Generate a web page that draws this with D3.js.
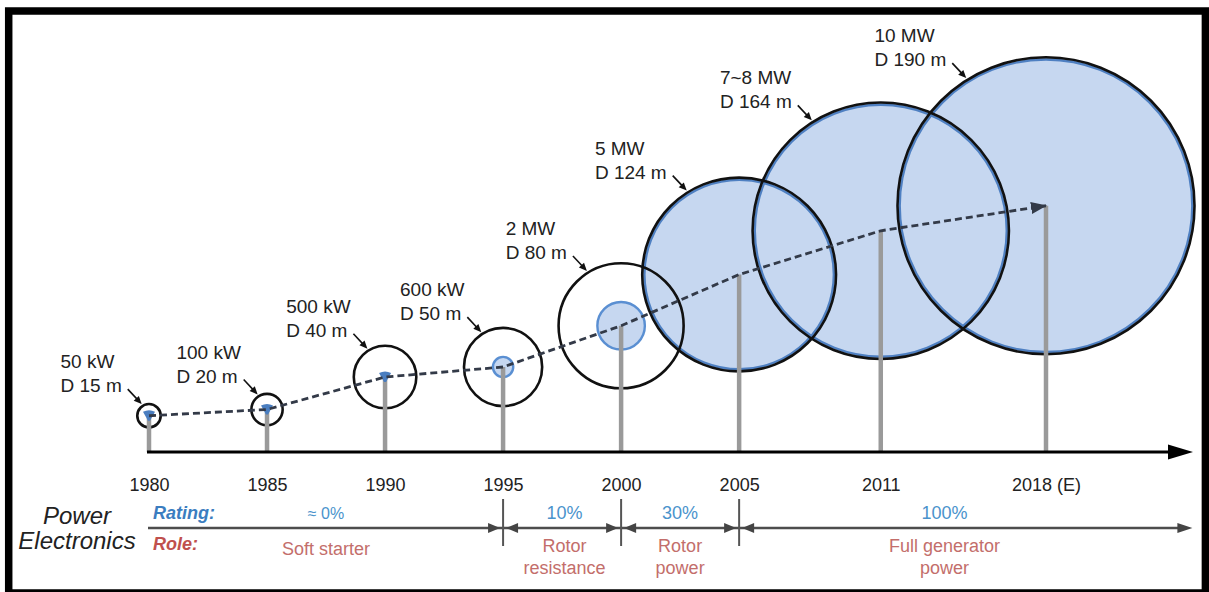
<!DOCTYPE html>
<html><head><meta charset="utf-8">
<script src="https://cdn.jsdelivr.net/npm/d3@7"></script>
<style>
body{margin:0;background:#fff}
svg{display:block}
text{font-family:"Liberation Sans",Arial,Helvetica,sans-serif}
</style>
</head><body>
<svg id="c" width="1209" height="592"></svg>
<script>
// ---------------- data ----------------
const years = [1980, 1985, 1990, 1995, 2000, 2005, 2011, 2018];
const yearLabels = ["1980", "1985", "1990", "1995", "2000", "2005", "2011", "2018 (E)"];
const powerLabels = ["50 kW", "100 kW", "500 kW", "600 kW", "2 MW", "5 MW", "7~8 MW", "10 MW"];
const diameterLabels = ["D 15 m", "D 20 m", "D 40 m", "D 50 m", "D 80 m", "D 124 m", "D 164 m", "D 190 m"];
const rotorDiameters = [15, 20, 40, 50, 80, 124, 164, 190];     // m
const hubHeights = [29, 34, 60, 68, 101, 142, 177, 197];         // m
const peDiscShare = [0, 0, 0, 0.26, 0.38, 1, 1, 1];              // blue disc / rotor radius
const stageBounds = [1980, 1995, 2000, 2005, 2024.2];
const stageLabelYears = [1987.5, 1997.6, 2002.5, 2013.7];
const stageRatings = ["≈ 0%", "10%", "30%", "100%"];
const stageRoles = [["Soft starter"], ["Rotor", "resistance"], ["Rotor", "power"], ["Full generator", "power"]];

// ---------------- setup ----------------
const svg = d3.select("#c");
const W = 1209, H = 592;
const axisY = 452;
const x = d3.scaleLinear().domain([1980, 2018]).range([149, 1046]);
const hubY = d3.scaleLinear().domain([0, 200]).range([axisY, axisY - 250]);
const rS = d3.scaleLinear().domain([0, 190]).range([0, 148.5]);

const FILL = "#c6d7f0", BLUE = "#4f80c2", BLUE_TXT = "#4a93cc", RED = "#c0504d", RED_TXT = "#c36e6b";

const turbines = years.map((y, i) => ({
  year: y, cx: x(y), cy: hubY(hubHeights[i]), r: rS(rotorDiameters[i]),
  share: peDiscShare[i], p: powerLabels[i], d: diameterLabels[i]
}));

svg.append("rect").attr("width", W).attr("height", H).attr("fill", "#fff");

const defs = svg.append("defs");
defs.append("marker").attr("id", "trendHead").attr("markerUnits", "userSpaceOnUse")
  .attr("viewBox", "0 0 16 12").attr("refX", 15).attr("refY", 6)
  .attr("markerWidth", 16).attr("markerHeight", 12).attr("orient", "auto")
  .append("path").attr("d", "M0,0 L16,6 L0,12 Z").attr("fill", "#333a48");

const g = svg.append("g");

// 1) filled rotor discs
const full = turbines.filter(t => t.share >= 1);
g.selectAll("circle.fill").data(full).join("circle")
  .attr("cx", d => d.cx).attr("cy", d => d.cy).attr("r", d => d.r)
  .attr("fill", FILL).attr("stroke", "none");
g.selectAll("circle.ring").data(full).join("circle")
  .attr("cx", d => d.cx).attr("cy", d => d.cy).attr("r", d => d.r - 2.2)
  .attr("fill", "none").attr("stroke", BLUE).attr("stroke-width", 2.4);

// 2) black rotor outlines
g.selectAll("circle.outline").data(turbines).join("circle")
  .attr("cx", d => d.cx).attr("cy", d => d.cy).attr("r", d => d.r)
  .attr("fill", "none").attr("stroke", "#111").attr("stroke-width", 2.6);

// 3) partial power-electronics discs
const partial = turbines.filter(t => t.share > 0 && t.share < 1);
g.selectAll("circle.pe").data(partial).join("circle")
  .attr("cx", d => d.cx).attr("cy", d => d.cy).attr("r", d => d.r * d.share)
  .attr("fill", FILL).attr("stroke", "#5a8fd2").attr("stroke-width", 2.4);

// 4) towers
g.selectAll("line.tower").data(turbines).join("line")
  .attr("x1", d => d.cx).attr("x2", d => d.cx)
  .attr("y1", d => d.cy).attr("y2", axisY)
  .attr("stroke", "#9a9a9a").attr("stroke-width", 4.5);

// hub markers for the small turbines
g.selectAll("path.hub").data(turbines.filter(t => t.share === 0)).join("path")
  .attr("d", d => `M${d.cx - 6},${d.cy - 4} Q${d.cx},${d.cy - 7} ${d.cx + 6},${d.cy - 4} L${d.cx + 1},${d.cy + 5} L${d.cx - 1},${d.cy + 5} Z`)
  .attr("fill", "#4a7ec0");

// 5) dashed trend line
const trend = d3.line().x(d => d.cx).y(d => d.cy).curve(d3.curveLinear);
g.append("path").attr("d", trend(turbines))
  .attr("fill", "none").attr("stroke", "#333a48").attr("stroke-width", 2.8)
  .attr("stroke-dasharray", "7,4").attr("marker-end", "url(#trendHead)");

// 6) main time axis
g.append("line").attr("x1", 147).attr("x2", 1172).attr("y1", axisY).attr("y2", axisY)
  .attr("stroke", "#000").attr("stroke-width", 3.2);
g.append("path").attr("d", `M1193,${axisY} L1168,${axisY - 7.5} L1168,${axisY + 7.5} Z`).attr("fill", "#000");

const axis = d3.axisBottom(x).tickValues(years).tickFormat((d, i) => yearLabels[i]).tickSize(0).tickPadding(26);
const ag = g.append("g").attr("transform", `translate(0,${axisY})`).call(axis);
ag.select(".domain").remove();
ag.selectAll("text").attr("font-size", 18).attr("fill", "#222")
  .style("font-family", '"Liberation Sans",Arial,sans-serif');

// 7) labels with small arrows
const ang = -122 * Math.PI / 180;
turbines.forEach(t => {
  const tipX = t.cx + (t.r + 2) * Math.cos(ang), tipY = t.cy + (t.r + 2) * Math.sin(ang);
  const sx = tipX - 14, sy = tipY - 15;
  g.append("line").attr("x1", sx).attr("y1", sy).attr("x2", tipX - 3).attr("y2", tipY - 3.2)
    .attr("stroke", "#111").attr("stroke-width", 1.6);
  const dx = 14 / Math.hypot(14, 15), dy = 15 / Math.hypot(14, 15);
  const bx = tipX - dx * 8, by = tipY - dy * 8;
  g.append("path").attr("d", `M${tipX},${tipY} L${bx - dy * 3.5},${by + dx * 3.5} L${bx + dy * 3.5},${by - dx * 3.5} Z`)
    .attr("fill", "#111");
  const t2 = g.append("text").attr("font-size", 19).attr("fill", "#222").text(t.d);
  const len = t2.node().getComputedTextLength();
  const lx = sx - 6 - len;
  t2.attr("x", lx).attr("y", sy + 3);
  g.append("text").attr("font-size", 19).attr("fill", "#222").attr("x", lx).attr("y", sy + 3 - 24).text(t.p);
});

// 8) power electronics stages
const lineY = 528;
const xs = stageBounds.map(b => x(b));
g.append("line").attr("x1", 148).attr("x2", 1180).attr("y1", lineY).attr("y2", lineY)
  .attr("stroke", "#4d4d4d").attr("stroke-width", 2.6);
function head(tx, dir, len, hw) {
  return `M${tx},${lineY} L${tx - dir * len},${lineY - hw} L${tx - dir * len},${lineY + hw} Z`;
}
stageBounds.slice(0, -1).forEach((b, i) => {
  const x0 = xs[i], x1 = xs[i + 1];
  if (i > 0) g.append("path").attr("d", head(x0 + 3, -1, 12, 5)).attr("fill", "#444");
  const last = i === stageBounds.length - 2;
  g.append("path").attr("d", head(last ? x1 : x1 - 3, 1, last ? 15 : 12, 5)).attr("fill", "#444");
  if (i > 0) g.append("line").attr("x1", x0).attr("x2", x0).attr("y1", 499).attr("y2", 546)
    .attr("stroke", "#555").attr("stroke-width", 2);
  const cx = x(stageLabelYears[i]);
  g.append("text").attr("x", cx).attr("y", 519).attr("text-anchor", "middle")
    .attr("font-size", i === 0 ? 16 : 18).attr("fill", BLUE_TXT).text(stageRatings[i]);
  const role = stageRoles[i];
  role.forEach((r, k) => {
    g.append("text").attr("x", cx).attr("y", (role.length === 1 ? 555 : 552) + k * 22)
      .attr("text-anchor", "middle").attr("font-size", 18).attr("fill", RED_TXT).text(r);
  });
});

g.append("text").attr("x", 77).attr("y", 524).attr("text-anchor", "middle")
  .attr("font-size", 24).attr("font-style", "italic").attr("fill", "#222").text("Power");
g.append("text").attr("x", 77).attr("y", 549).attr("text-anchor", "middle")
  .attr("font-size", 24).attr("font-style", "italic").attr("fill", "#222").text("Electronics");
g.append("text").attr("x", 153).attr("y", 519).attr("font-size", 18).attr("font-weight", "bold")
  .attr("font-style", "italic").attr("fill", "#3b7dc0").text("Rating:");
g.append("text").attr("x", 153).attr("y", 550).attr("font-size", 18).attr("font-weight", "bold")
  .attr("font-style", "italic").attr("fill", RED).text("Role:");

// 9) frame
svg.append("rect").attr("x", 8.7).attr("y", 11).attr("width", 1205.4 - 8.7).attr("height", 593 - 11)
  .attr("fill", "none").attr("stroke", "#000").attr("stroke-width", 7.5);
</script>
</body></html>
